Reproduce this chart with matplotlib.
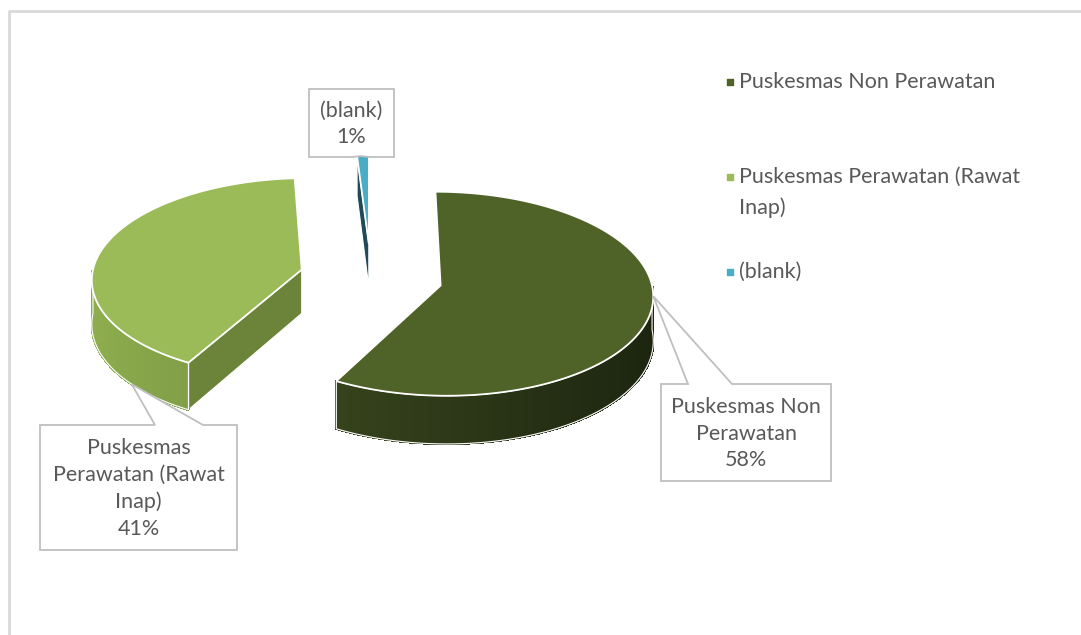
import numpy as np
import matplotlib
matplotlib.use("Agg")
import matplotlib.pyplot as plt
from matplotlib.patches import Polygon

# data
labels = ["Puskesmas Non Perawatan", "Puskesmas Perawatan (Rawat Inap)", "(blank)"]
values = [58, 41, 1]
label_lines = ["Puskesmas Non\nPerawatan", "Puskesmas\nPerawatan (Rawat\nInap)", "(blank)"]
top_colors = ["#4f6228", "#9bbb59", "#4bacc6"]
rim_light = [(62, 78, 33), (142, 174, 78), (40, 95, 110)]
rim_dark = [(28, 36, 15), (92, 114, 50), (20, 50, 60)]
face_colors = ["#1a2210", "#6b843a", "#1f4b58"]

txt_color = "#595959"
plt.rcParams["font.family"] = ["Lato", "DejaVu Sans"]

W, H = 1081, 635
fig = plt.figure(figsize=(W / 100, H / 100), dpi=100)
ax = fig.add_axes([0, 0, 1, 1])
ax.set_xlim(0, W)
ax.set_ylim(H, 0)
ax.axis("off")

# pie geometry (pixels)
cx, cy, rx, ry, depth, k, ex = 371, 277, 210, 100, 44, 0.08, 0.34


def proj(u, w, down=0.0):
    s = 1.0 / (1.0 + k * w)
    return cx + rx * u * s, cy - ry * w * s + down * s


total = sum(values)
angles = np.cumsum([0] + values) / total * 360.0

order = [2, 1, 0]  # back to front
geo = {}
for i in range(len(values)):
    a0, a1 = angles[i], angles[i + 1]
    am = np.radians((a0 + a1) / 2)
    geo[i] = (a0, a1, ex * np.sin(am), ex * np.cos(am))


def rim_pt(i, th_deg, down=0.0):
    a0, a1, ou, ow = geo[i]
    t = np.radians(th_deg)
    return proj(ou + np.sin(t), ow + np.cos(t), down)


for i in order:
    a0, a1, ou, ow = geo[i]
    apex = proj(ou, ow)
    apex_b = proj(ou, ow, depth)

    # radial faces, only the ones turned to the viewer
    if np.sin(np.radians(a0)) < -1e-6:
        p = [apex, rim_pt(i, a0), rim_pt(i, a0, depth), apex_b]
        ax.add_patch(Polygon(p, closed=True, fc=face_colors[i], ec="white", lw=0.8, zorder=2))
    if -np.sin(np.radians(a1)) < -1e-6:
        p = [apex, rim_pt(i, a1), rim_pt(i, a1, depth), apex_b]
        ax.add_patch(Polygon(p, closed=True, fc=face_colors[i], ec="white", lw=0.8, zorder=2))

    # outer rim (front half only), shaded left to right
    r0, r1 = max(a0, 90.0), min(a1, 270.0)
    if r1 > r0:
        ths = np.linspace(r0, r1, 80)
        for t0, t1 in zip(ths[:-1], ths[1:]):
            u = np.sin(np.radians((t0 + t1) / 2))
            f = (u + 1) / 2
            c = [(rim_light[i][j] * (1 - f) + rim_dark[i][j] * f) / 255 for j in range(3)]
            p = [rim_pt(i, t0), rim_pt(i, t1), rim_pt(i, t1, depth), rim_pt(i, t0, depth)]
            ax.add_patch(Polygon(p, closed=True, fc=c, ec=c, lw=1.0, antialiased=False, zorder=2))
        outline = [rim_pt(i, t) for t in ths] + [rim_pt(i, t, depth) for t in ths[::-1]]
        ax.add_patch(Polygon(outline, closed=True, fill=False, ec="white", lw=0.8, zorder=2.5))

    # top face
    ths = np.linspace(a0, a1, max(int(a1 - a0), 3))
    top = [apex] + [rim_pt(i, t) for t in ths]
    ax.add_patch(Polygon(top, closed=True, fc=top_colors[i], ec="white", lw=1.3, zorder=3))

# callouts: box (x0, y0, x1, y1), notch side, notch base x, tip on slice
boxes = [(661, 384, 831, 481), (40, 425, 237, 550), (309, 89, 394, 157)]
notch = [("top", 688, 732), ("top", 155, 203), ("bottom", 352, 370)]
tip_ang = [(96, 0), (229, depth), (357.5, 0)]

for i in range(len(values)):
    x0, y0, x1, y1 = boxes[i]
    side, b0, b1 = notch[i]
    tx, ty = rim_pt(i, tip_ang[i][0], tip_ang[i][1])
    if side == "top":
        pts = [(x0, y0), (b0, y0), (tx, ty), (b1, y0), (x1, y0), (x1, y1), (x0, y1)]
    else:
        pts = [(x0, y0), (x1, y0), (x1, y1), (b1, y1), (tx, ty), (b0, y1), (x0, y1)]
    ax.add_patch(Polygon(pts, closed=True, fc="white", ec="#bfbfbf", lw=1.3, zorder=4))
    pct = f"{values[i] / total * 100:.0f}%"
    ax.text((x0 + x1) / 2, (y0 + y1) / 2 + 1, label_lines[i] + "\n" + pct, ha="center", va="center",
            fontsize=15.5, color=txt_color, linespacing=1.42, zorder=5)

# legend
leg_y = [82, 177, 272]
leg_txt = ["Puskesmas Non Perawatan", "Puskesmas Perawatan (Rawat\nInap)", "(blank)"]
for i in range(len(values)):
    ax.scatter([730], [leg_y[i]], marker="s", s=16, color=top_colors[i], zorder=5)
    ax.text(739, leg_y[i] - 10, leg_txt[i], ha="left", va="top", fontsize=15.5,
            color=txt_color, linespacing=1.6, zorder=5)

# chart area border
ax.plot([9, 9, W + 5], [H + 5, 11, 11], color="#d9d9d9", lw=2, zorder=1)

fig.savefig("out.png", dpi=100)
